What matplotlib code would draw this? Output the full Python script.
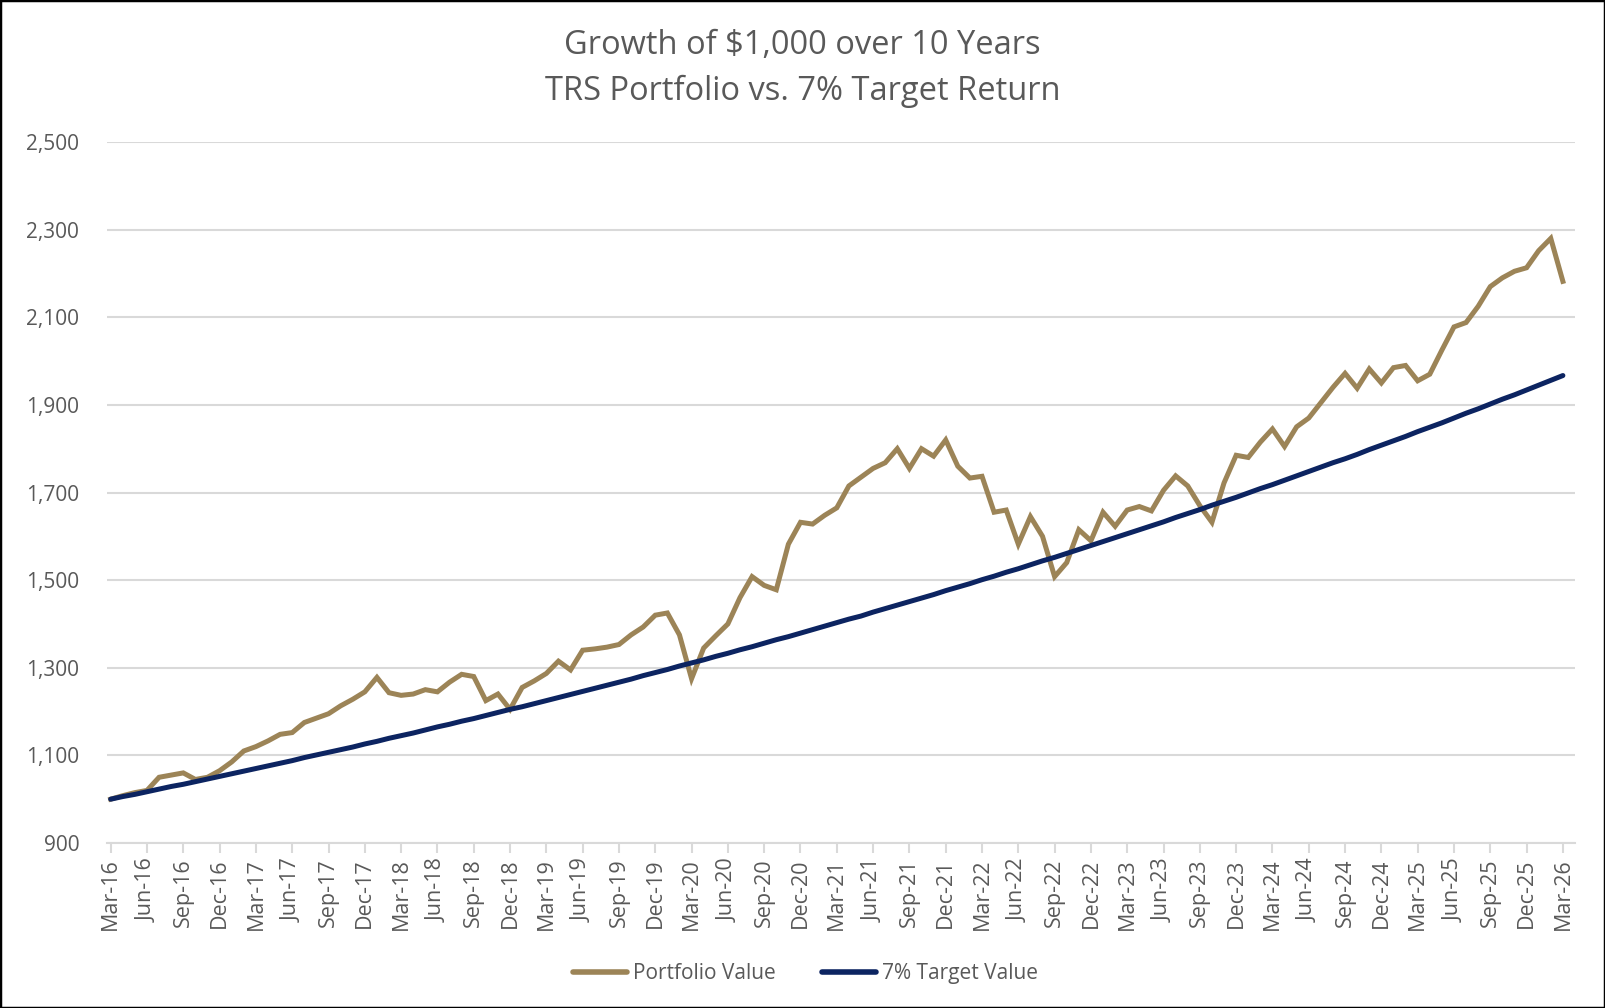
import matplotlib.pyplot as plt
import numpy as np
from matplotlib.patches import Rectangle

plt.rcParams['font.family'] = ['Open Sans', 'DejaVu Sans']

# monthly values, Mar-16 .. Mar-26
portfolio = [1000, 1008, 1015, 1020, 1050, 1055, 1060, 1045, 1050, 1065,
             1085, 1110, 1120, 1133, 1148, 1152, 1175, 1185, 1195, 1213, 1228, 1245,
             1278, 1243, 1237, 1240, 1250, 1245, 1267, 1285, 1280, 1225, 1240, 1205,
             1255, 1270, 1287, 1315, 1295, 1340, 1343, 1347, 1353, 1375, 1393, 1420,
             1425, 1375, 1275, 1345, 1373, 1400, 1460, 1508, 1488, 1478, 1582, 1632,
             1628, 1648, 1665, 1715, 1735, 1755, 1768, 1800, 1755, 1800, 1783, 1820,
             1760, 1733, 1737, 1655, 1660, 1582, 1645, 1600, 1508, 1540, 1615, 1590,
             1655, 1623, 1660, 1668, 1658, 1705, 1738, 1715, 1670, 1632, 1722, 1785,
             1780, 1815, 1845, 1805, 1850, 1870, 1905, 1940, 1972, 1938, 1982, 1950,
             1985, 1990, 1955, 1970, 2025, 2078, 2088, 2125, 2170, 2190, 2205, 2213,
             2252, 2280, 2182]
target = [1000, 1006, 1011, 1017, 1023, 1029, 1034, 1040, 1046, 1052,
          1058, 1064, 1070, 1076, 1082, 1088, 1095, 1101, 1107, 1113, 1119, 1126, 1132,
          1139, 1145, 1151, 1158, 1165, 1171, 1178, 1184, 1191, 1198, 1205, 1211, 1218,
          1225, 1232, 1239, 1246, 1253, 1260, 1267, 1274, 1282, 1289, 1296, 1304,
          1311, 1318, 1326, 1333, 1341, 1348, 1356, 1364, 1371, 1379, 1387, 1395,
          1403, 1411, 1418, 1427, 1435, 1443, 1451, 1459, 1467, 1476, 1484, 1492,
          1501, 1509, 1518, 1526, 1535, 1544, 1552, 1561, 1570, 1579, 1588, 1597,
          1606, 1615, 1624, 1633, 1643, 1652, 1661, 1671, 1680, 1689, 1699, 1709,
          1718, 1728, 1738, 1748, 1758, 1768, 1777, 1787, 1798, 1808, 1818, 1828,
          1839, 1849, 1859, 1870, 1881, 1891, 1902, 1913, 1923, 1934, 1945, 1956,
          1967]
months = ['Mar', 'Jun', 'Sep', 'Dec']
tick_labels = ['%s-%02d' % (months[i % 4], 16 + i // 4) for i in range(41)]
y_ticks = [900, 1100, 1300, 1500, 1700, 1900, 2100, 2300, 2500]

gold = '#9C8457'
navy = '#0C2461'
grey = '#595959'

fig = plt.figure(figsize=(16.05, 10.08), dpi=100)
ax = fig.add_axes([0.0667, 0.1637, 0.9146, 0.6954])

x = np.arange(len(portfolio))
ax.plot(x, portfolio, color=gold, lw=3.6, solid_joinstyle='miter', label='Portfolio Value')
ax.plot(x, target, color=navy, lw=3.6, solid_capstyle='round', label='7% Target Value')

ax.set_ylim(900, 2500)
ax.set_xlim(-0.3, 121)
ax.set_yticks(y_ticks)
ax.set_yticklabels(['{:,}'.format(v) for v in y_ticks])
ax.set_xticks(np.arange(0, 121, 3))
ax.set_xticklabels(tick_labels, rotation=90)
ax.tick_params(axis='y', length=0, labelsize=15, labelcolor=grey, pad=20)
ax.tick_params(axis='x', length=7, width=1.5, color='#D9D9D9', labelsize=15.5,
               labelcolor=grey, pad=4)
ax.grid(axis='y', color='#D9D9D9', lw=1.5)
ax.set_axisbelow(True)
for s in ['top', 'right', 'left']:
    ax.spines[s].set_visible(False)
ax.spines['bottom'].set_color('#D9D9D9')
ax.spines['bottom'].set_linewidth(1.5)

fig.text(0.5, 0.955, 'Growth of $1,000 over 10 Years', ha='center', va='center',
         fontsize=23.5, color=grey)
fig.text(0.5, 0.909, 'TRS Portfolio vs. 7% Target Return', ha='center', va='center',
         fontsize=23.5, color=grey)

leg = fig.legend(loc='center', bbox_to_anchor=(0.502, 0.034), ncol=2, frameon=False,
                 fontsize=15, handlelength=2.6, handletextpad=0.3, columnspacing=2.2)
for t in leg.get_texts():
    t.set_color(grey)
for h in leg.get_lines():
    h.set_linewidth(4)
    h.set_solid_capstyle('round')

fig.patches.append(Rectangle((0, 0), 1, 1, transform=fig.transFigure, fill=False,
                             edgecolor='black', lw=2.5))

plt.savefig('out.png', dpi=100)
